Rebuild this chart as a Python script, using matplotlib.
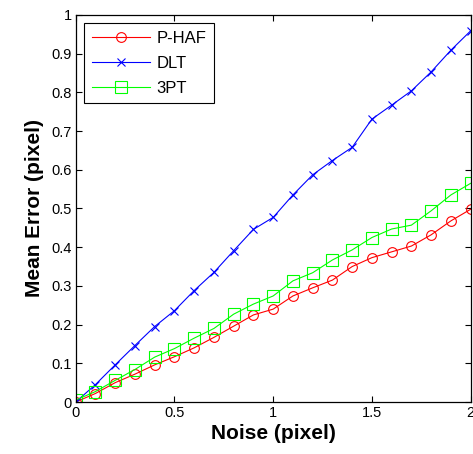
import numpy as np
import matplotlib
matplotlib.use('Agg')
import matplotlib.pyplot as plt

plt.rcParams['font.family'] = ['Liberation Sans', 'DejaVu Sans']

# noise level (pixel)
noise = [0.0, 0.1, 0.2, 0.3, 0.4, 0.5, 0.6, 0.7, 0.8, 0.9, 1.0,
         1.1, 1.2, 1.3, 1.4, 1.5, 1.6, 1.7, 1.8, 1.9, 2.0]

# mean error (pixel)
phaf = [0.0, 0.022, 0.05, 0.072, 0.096, 0.117, 0.14, 0.167, 0.196, 0.225, 0.24,
        0.274, 0.295, 0.315, 0.35, 0.373, 0.388, 0.403, 0.432, 0.468, 0.498]
dlt = [0.0, 0.045, 0.096, 0.146, 0.195, 0.236, 0.288, 0.335, 0.391, 0.446, 0.477,
       0.535, 0.587, 0.624, 0.658, 0.731, 0.767, 0.804, 0.853, 0.909, 0.959]
pt3 = [0.005, 0.027, 0.056, 0.084, 0.116, 0.138, 0.165, 0.19, 0.227, 0.253, 0.274,
       0.313, 0.334, 0.367, 0.393, 0.425, 0.447, 0.457, 0.494, 0.535, 0.565]

fig = plt.figure(figsize=(4.73, 4.54), dpi=100)
ax = fig.add_axes([0.16, 0.1145, 0.835, 0.8525])

ax.plot(noise, phaf, color='red', lw=0.8, marker='o', ms=7, mfc='none', mew=0.8, label='P-HAF')
ax.plot(noise, dlt, color='blue', lw=0.8, marker='x', ms=6, mew=0.8, label='DLT')
ax.plot(noise, pt3, color='#00ff00', lw=0.8, marker='s', ms=8, mfc='none', mew=0.8, label='3PT')

ax.set_xlim(0, 2)
ax.set_ylim(0, 1)
ax.set_xticks([0, 0.5, 1, 1.5, 2])
ax.set_xticklabels(['0', '0.5', '1', '1.5', '2'])
yt = [0, 0.1, 0.2, 0.3, 0.4, 0.5, 0.6, 0.7, 0.8, 0.9, 1]
ax.set_yticks(yt)
ax.set_yticklabels(['0', '0.1', '0.2', '0.3', '0.4', '0.5', '0.6', '0.7', '0.8', '0.9', '1'])
ax.tick_params(direction='in', top=True, right=True, labelsize=10.5, length=4, width=0.8, pad=3)
for s in ax.spines.values():
    s.set_linewidth(0.9)

ax.set_xlabel('Noise (pixel)', fontsize=15, fontweight='bold', labelpad=3)
ax.set_ylabel('Mean Error (pixel)', fontsize=15, fontweight='bold', labelpad=5)

leg = ax.legend(loc='upper left', fontsize=12, fancybox=False, edgecolor='black',
                framealpha=1, borderaxespad=0.5, handlelength=3.5, handletextpad=0.4,
                labelspacing=0.6, borderpad=0.45)
leg.get_frame().set_linewidth(0.8)

fig.savefig('out.png', dpi=100)
